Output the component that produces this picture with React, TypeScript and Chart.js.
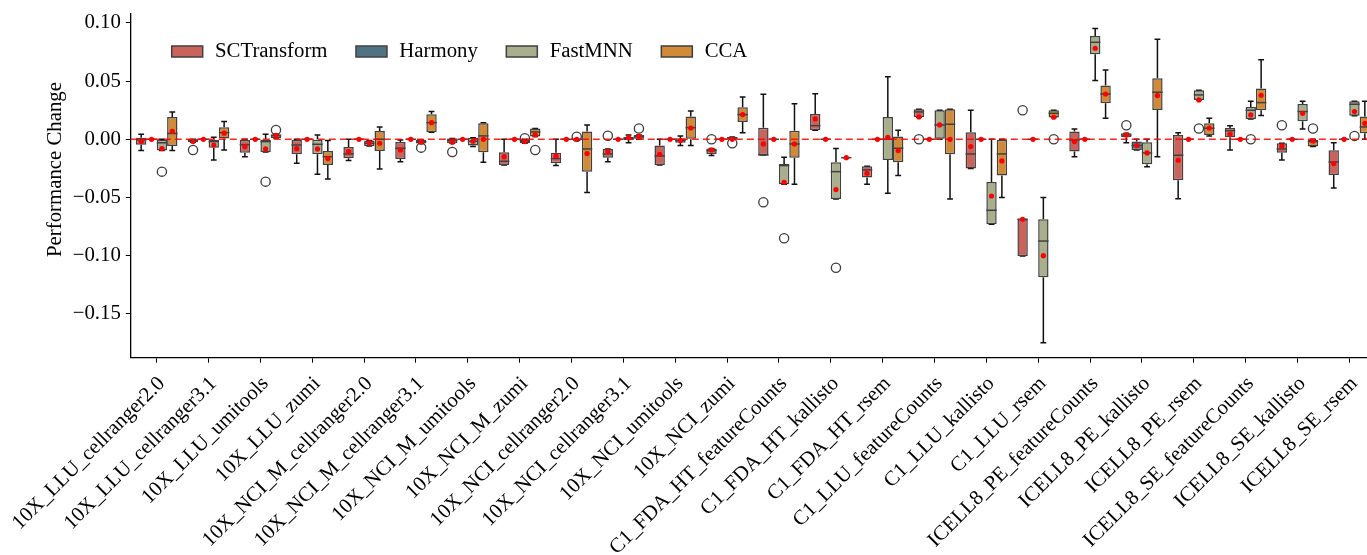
import React, { useEffect, useRef } from "react";
import { Chart, registerables } from "chart.js";

Chart.register(...registerables);

const categories = [
  "10X_LLU_cellranger2.0", "10X_LLU_cellranger3.1", "10X_LLU_umitools", "10X_LLU_zumi",
  "10X_NCI_M_cellranger2.0", "10X_NCI_M_cellranger3.1", "10X_NCI_M_umitools", "10X_NCI_M_zumi",
  "10X_NCI_cellranger2.0", "10X_NCI_cellranger3.1", "10X_NCI_umitools", "10X_NCI_zumi",
  "C1_FDA_HT_featureCounts", "C1_FDA_HT_kallisto", "C1_FDA_HT_rsem",
  "C1_LLU_featureCounts", "C1_LLU_kallisto", "C1_LLU_rsem",
  "ICELL8_PE_featureCounts", "ICELL8_PE_kallisto", "ICELL8_PE_rsem",
  "ICELL8_SE_featureCounts", "ICELL8_SE_kallisto", "ICELL8_SE_rsem",
];

const seriesNames = ["SCTransform", "Harmony", "FastMNN", "CCA"];
const seriesColors = ["#c8645c", "#4f7382", "#a9ae8c", "#d08a38"];
const yTitle = "Performance Change";

// each entry: [whiskerLow, q1, median, q3, whiskerHigh]
const sctBoxes = [
  [-0.0097, -0.0046, -0.0006, 0.0014, 0.0043],
  [-0.0026, -0.0026, -0.0006, 0.0, 0.0],
  [-0.0149, -0.0115, -0.0046, -0.0006, 0.0],
  [-0.0206, -0.0129, -0.0049, -0.0006, 0.0],
  [-0.0183, -0.0163, -0.0126, -0.0066, 0.0],
  [-0.0192, -0.0169, -0.0077, -0.0023, -0.0006],
  [-0.0034, -0.0034, -0.001, 0.0006, 0.0006],
  [-0.022, -0.022, -0.0189, -0.0112, 0.0],
  [-0.0226, -0.0206, -0.0166, -0.0115, 0.0],
  [-0.0192, -0.0158, -0.0126, -0.0083, -0.0083],
  [-0.022, -0.022, -0.0143, -0.0054, 0.0],
  [-0.014, -0.0126, -0.0097, -0.008, -0.008],
  [-0.0135, -0.0135, -0.0135, 0.01, 0.0387],
  [0.0077, 0.0077, 0.0117, 0.0218, 0.0392],
  [-0.0387, -0.0329, -0.0263, -0.0232, -0.0232],
  [0.0189, 0.0189, 0.0235, 0.0258, 0.0258],
  [-0.0252, -0.0252, -0.0126, 0.006, 0.0249],
  [-0.1003, -0.1003, -0.0687, -0.0687, -0.0687],
  [-0.0149, -0.0106, -0.0006, 0.0066, 0.0089],
  [-0.0029, 0.0017, 0.0037, 0.0052, 0.0052],
  [-0.051, -0.0352, -0.0137, 0.0037, 0.0057],
  [-0.0092, 0.0017, 0.0074, 0.0097, 0.0117],
  [-0.0178, -0.0115, -0.0083, -0.0034, -0.0034],
  [-0.0418, -0.0306, -0.0195, -0.0095, -0.0029],
];
const sctMeans = [
  -0.002, -0.002, -0.0063, -0.008, -0.0106, -0.0092, -0.0026, -0.0149,
  -0.0143, -0.0106, -0.0129, -0.0092, -0.004, 0.0175, -0.0292, 0.0192,
  -0.0063, -0.0687, -0.002, 0.0037, -0.018, 0.0043, -0.0057, -0.0209,
];
const sctOutliers = [
  [], [-0.0092], [], [], [], [], [-0.0109], [],
  [], [0.0031], [], [0.0], [-0.0541], [], [], [0.0],
  [], [0.0249], [], [0.012], [], [], [0.012], [],
];

const harmonyBoxes = [
  [0, 0, 0, 0, 0], [0, 0, 0, 0, 0], [0, 0, 0, 0, 0], [0, 0, 0, 0, 0],
  [0, 0, 0, 0, 0], [0, 0, 0, 0, 0], [0, 0, 0, 0, 0], [0, 0, 0, 0, 0],
  [0, 0, 0, 0, 0], [0, 0, 0, 0, 0], [0, 0, 0, 0, 0], [0, 0, 0, 0, 0],
  [0, 0, 0, 0, 0], [0, 0, 0, 0, 0], [0, 0, 0, 0, 0], [0, 0, 0, 0, 0],
  [0, 0, 0, 0, 0], [0, 0, 0, 0, 0], [0, 0, 0, 0, 0],
  [-0.0092, -0.0092, -0.0054, -0.002, 0.0],
  [0, 0, 0, 0, 0], [0, 0, 0, 0, 0], [0, 0, 0, 0, 0], [0, 0, 0, 0, 0],
];
const harmonyMeans = [
  0, 0, 0, 0, 0, 0, 0, 0, 0, 0, 0, 0,
  0, 0, 0, 0, 0, 0, 0, -0.0054, 0, 0, 0, 0,
];
const harmonyOutliers = [
  [], [], [], [], [], [], [], [], [], [], [], [],
  [], [], [], [], [], [], [], [], [], [], [], [],
];

const fastmnnBoxes = [
  [-0.0097, -0.0097, -0.003, 0.0, 0.0],
  [-0.0178, -0.0072, -0.002, 0.0, 0.0017],
  [-0.0109, -0.0109, -0.002, 0.0, 0.0043],
  [-0.0301, -0.0129, -0.0043, 0.0, 0.0037],
  [-0.0057, -0.0057, -0.0034, -0.0011, -0.0011],
  [-0.0037, -0.0037, -0.002, -0.0006, -0.0006],
  [-0.0063, -0.0054, -0.0017, 0.0014, 0.0014],
  [-0.0034, -0.0034, -0.001, 0.0, 0.0],
  [0.0, 0.0, 0.0, 0.0, 0.0],
  [-0.0029, -0.0006, 0.0006, 0.002, 0.0037],
  [-0.0054, -0.0029, -0.001, 0.0009, 0.0029],
  [0.0, 0.0, 0.001, 0.002, 0.002],
  [-0.0387, -0.0387, -0.0226, -0.0212, -0.0155],
  [-0.0513, -0.0513, -0.0278, -0.0198, -0.008],
  [-0.0464, -0.0178, 0.0, 0.0192, 0.0538],
  [0.0, 0.0, 0.0123, 0.0249, 0.0249],
  [-0.073, -0.073, -0.061, -0.0367, 0.0],
  [-0.1747, -0.1186, -0.0874, -0.0687, -0.0501],
  [0.0504, 0.073, 0.0833, 0.0888, 0.0951],
  [-0.0235, -0.0215, -0.0117, -0.0026, 0.0],
  [0.0338, 0.0338, 0.0381, 0.0421, 0.0421],
  [0.0175, 0.0175, 0.0249, 0.0278, 0.0326],
  [0.0089, 0.0155, 0.0238, 0.0304, 0.0326],
  [0.0203, 0.0203, 0.0301, 0.0326, 0.0326],
];
const fastmnnMeans = [
  -0.008, -0.0049, -0.0083, -0.0083, -0.0031, -0.0026, -0.0017, -0.002,
  0.0, 0.0014, -0.0011, 0.0, -0.0369, -0.0432, 0.0017, 0.0123,
  -0.0487, -0.1, 0.0782, -0.0117, 0.0338, 0.0209, 0.0223, 0.0238,
];
const fastmnnOutliers = [
  [-0.0278], [], [-0.0364], [], [], [-0.0072], [], [0.0009],
  [0.0022], [], [], [-0.0034], [-0.085], [-0.1103], [], [],
  [], [], [], [], [0.0092], [0.0], [], [0.0029],
];

const ccaBoxes = [
  [-0.0097, -0.0057, 0.005, 0.0192, 0.0235],
  [-0.0092, 0.0006, 0.0057, 0.0103, 0.0152],
  [0.0011, 0.0011, 0.0031, 0.0043, 0.0043],
  [-0.0341, -0.022, -0.0149, -0.01, -0.0011],
  [-0.0255, -0.01, 0.0, 0.0072, 0.0106],
  [0.006, 0.006, 0.0143, 0.0215, 0.0238],
  [-0.0198, -0.0112, 0.0029, 0.0137, 0.0143],
  [0.0023, 0.0023, 0.0063, 0.0092, 0.0092],
  [-0.0458, -0.0278, -0.0083, 0.0066, 0.0123],
  [0.0, 0.0, 0.0023, 0.0037, 0.0037],
  [-0.0054, 0.0, 0.01, 0.0195, 0.0243],
  [0.0057, 0.0149, 0.0212, 0.0275, 0.0364],
  [-0.0387, -0.0158, -0.004, 0.0074, 0.0306],
  [-0.0158, -0.0158, -0.0158, -0.0158, -0.0158],
  [-0.0312, -0.0198, -0.0077, 0.0023, 0.0077],
  [-0.0513, -0.0129, 0.0129, 0.0258, 0.0258],
  [-0.0501, -0.0312, -0.0126, 0.0, 0.0],
  [0.0186, 0.0186, 0.0223, 0.0249, 0.0249],
  [0.018, 0.0309, 0.0389, 0.0461, 0.0596],
  [-0.0149, 0.0252, 0.0404, 0.0524, 0.0859],
  [0.0029, 0.0037, 0.0095, 0.0137, 0.018],
  [0.0204, 0.0249, 0.0315, 0.0436, 0.0682],
  [-0.0063, -0.0063, -0.002, 0.0, 0.0],
  [0.0, 0.0052, 0.0106, 0.0195, 0.0326],
];
const ccaMeans = [
  0.0069, 0.0052, 0.0034, -0.0166, -0.0034, 0.0143, 0.0, 0.0037,
  -0.0123, 0.0026, 0.0097, 0.0212, -0.004, -0.0158, -0.0097, 0.0,
  -0.0186, 0.0189, 0.0389, 0.0375, 0.0097, 0.0378, -0.0014, 0.0137,
];
const ccaOutliers = [
  [], [], [0.008], [], [], [], [], [-0.0092],
  [], [0.0092], [], [], [], [], [], [],
  [], [0.0], [], [], [], [], [0.0092], [],
];

const yTicks = [-0.15, -0.1, -0.05, 0.0, 0.05, 0.1];
const yMin = -0.1876;
const yMax = 0.1082;

const allBoxes = [sctBoxes, harmonyBoxes, fastmnnBoxes, ccaBoxes];
const allMeans = [sctMeans, harmonyMeans, fastmnnMeans, ccaMeans];
const allOutliers = [sctOutliers, harmonyOutliers, fastmnnOutliers, ccaOutliers];

const FONT = '"Liberation Serif", "Times New Roman", serif';
const FS = 20.8;
const EDGE = "#404040";

function fmtTick(v: number): string {
  const s = Math.abs(v).toFixed(2);
  return v < -1e-9 ? "\u2212" + s : s;
}

const boxPlugin = {
  id: "boxExtras",
  beforeDatasetsDraw(chart: any) {
    const ctx = chart.ctx;
    const y = chart.scales.y;
    ctx.save();
    ctx.strokeStyle = "#111";
    ctx.lineWidth = 1.5;
    allBoxes.forEach((boxes, s) => {
      const meta = chart.getDatasetMeta(s);
      boxes.forEach((b, i) => {
        const el: any = meta.data[i];
        const x = el.x;
        const w = el.width;
        const cap = w * 0.28;
        ctx.beginPath();
        ctx.moveTo(x, y.getPixelForValue(b[3]));
        ctx.lineTo(x, y.getPixelForValue(b[4]));
        ctx.moveTo(x, y.getPixelForValue(b[1]));
        ctx.lineTo(x, y.getPixelForValue(b[0]));
        ctx.moveTo(x - cap, y.getPixelForValue(b[4]));
        ctx.lineTo(x + cap, y.getPixelForValue(b[4]));
        ctx.moveTo(x - cap, y.getPixelForValue(b[0]));
        ctx.lineTo(x + cap, y.getPixelForValue(b[0]));
        ctx.stroke();
      });
    });
    ctx.restore();
  },
  afterDatasetsDraw(chart: any) {
    const ctx = chart.ctx;
    const y = chart.scales.y;
    const area = chart.chartArea;
    ctx.save();
    // medians
    ctx.strokeStyle = EDGE;
    ctx.lineWidth = 1.5;
    allBoxes.forEach((boxes, s) => {
      const meta = chart.getDatasetMeta(s);
      boxes.forEach((b, i) => {
        const el: any = meta.data[i];
        const py = y.getPixelForValue(b[2]);
        ctx.beginPath();
        ctx.moveTo(el.x - el.width / 2, py);
        ctx.lineTo(el.x + el.width / 2, py);
        ctx.stroke();
      });
    });
    // outliers
    ctx.strokeStyle = "#3a3a3a";
    ctx.lineWidth = 1.3;
    allOutliers.forEach((outs, s) => {
      const meta = chart.getDatasetMeta(s);
      outs.forEach((list, i) => {
        const el: any = meta.data[i];
        list.forEach((v) => {
          ctx.beginPath();
          ctx.arc(el.x, y.getPixelForValue(v), 4.6, 0, Math.PI * 2);
          ctx.stroke();
        });
      });
    });
    // zero line
    ctx.strokeStyle = "rgba(255,0,0,0.85)";
    ctx.lineWidth = 1.6;
    ctx.setLineDash([7, 4]);
    const y0 = y.getPixelForValue(0);
    ctx.beginPath();
    ctx.moveTo(area.left, y0);
    ctx.lineTo(area.right, y0);
    ctx.stroke();
    ctx.setLineDash([]);
    // means
    ctx.fillStyle = "#ff0000";
    allMeans.forEach((means, s) => {
      const meta = chart.getDatasetMeta(s);
      means.forEach((v, i) => {
        const el: any = meta.data[i];
        ctx.beginPath();
        ctx.arc(el.x, y.getPixelForValue(v), 2.6, 0, Math.PI * 2);
        ctx.fill();
      });
    });
    // legend
    ctx.font = `${FS}px ${FONT}`;
    ctx.textBaseline = "alphabetic";
    ctx.textAlign = "left";
    let lx = 171.7;
    seriesNames.forEach((name, s) => {
      ctx.fillStyle = seriesColors[s];
      ctx.fillRect(lx, 46, 31, 11);
      ctx.strokeStyle = EDGE;
      ctx.lineWidth = 1.5;
      ctx.strokeRect(lx, 46, 31, 11);
      ctx.fillStyle = "#000";
      const tx = lx + 43.3;
      ctx.fillText(name, tx, 56.7);
      lx = tx + ctx.measureText(name).width + 28.5;
    });
    // y axis title
    ctx.save();
    ctx.translate(55.5, 169.5);
    ctx.rotate(-Math.PI / 2);
    ctx.textAlign = "center";
    ctx.textBaseline = "middle";
    ctx.fillStyle = "#000";
    ctx.fillText(yTitle, 0, 0);
    ctx.restore();
    ctx.restore();
  },
};

export default function App() {
  const ref = useRef<HTMLCanvasElement | null>(null);
  useEffect(() => {
    if (!ref.current) return;
    const font = { family: FONT, size: FS };
    const chart = new Chart(ref.current, {
      type: "bar",
      data: {
        labels: categories,
        datasets: allBoxes.map((boxes, s) => ({
          label: seriesNames[s],
          data: boxes.map((b) => [b[1], b[3]]),
          backgroundColor: seriesColors[s],
          borderColor: EDGE,
          borderWidth: 1.5,
          borderSkipped: false,
          categoryPercentage: 0.8,
          barPercentage: 1.0,
        })),
      } as any,
      options: {
        responsive: false,
        animation: false,
        events: [],
        layout: { padding: { top: 13.3, right: 0.8, left: 0, bottom: 0 } },
        plugins: { legend: { display: false }, tooltip: { enabled: false } },
        scales: {
          x: {
            offset: true,
            grid: { display: true, offset: false, drawOnChartArea: false, drawTicks: true, tickLength: 5, color: "#000", lineWidth: 1 },
            border: { display: true, color: "#000", width: 1.3 },
            ticks: { autoSkip: false, maxRotation: 45, minRotation: 45, padding: 9, labelOffset: 5, color: "#000", font },
            afterFit: (sc: any) => {
              sc.height = 197.3;
              sc.paddingLeft = 0;
              sc.paddingRight = 0;
            },
          },
          y: {
            min: yMin,
            max: yMax,
            afterBuildTicks: (sc: any) => {
              sc.ticks = yTicks.map((v) => ({ value: v }));
            },
            ticks: { callback: (v: any) => fmtTick(Number(v)), padding: 5, color: "#000", font },
            grid: { drawOnChartArea: false, drawTicks: true, tickLength: 5, color: "#000", lineWidth: 1 },
            border: { display: true, color: "#000", width: 1.3 },
            afterFit: (sc: any) => {
              sc.width = 130.8;
              sc.paddingTop = 0;
              sc.paddingBottom = 0;
            },
          },
        },
      } as any,
      plugins: [boxPlugin],
    });
    return () => chart.destroy();
  }, []);
  return (
    <div style={{ position: "absolute", left: 0, top: 0, width: 1367, height: 555, overflow: "hidden", background: "#fff" }}>
      <canvas ref={ref} width={1376} height={555} style={{ display: "block", width: 1376, height: 555 }} />
    </div>
  );
}
